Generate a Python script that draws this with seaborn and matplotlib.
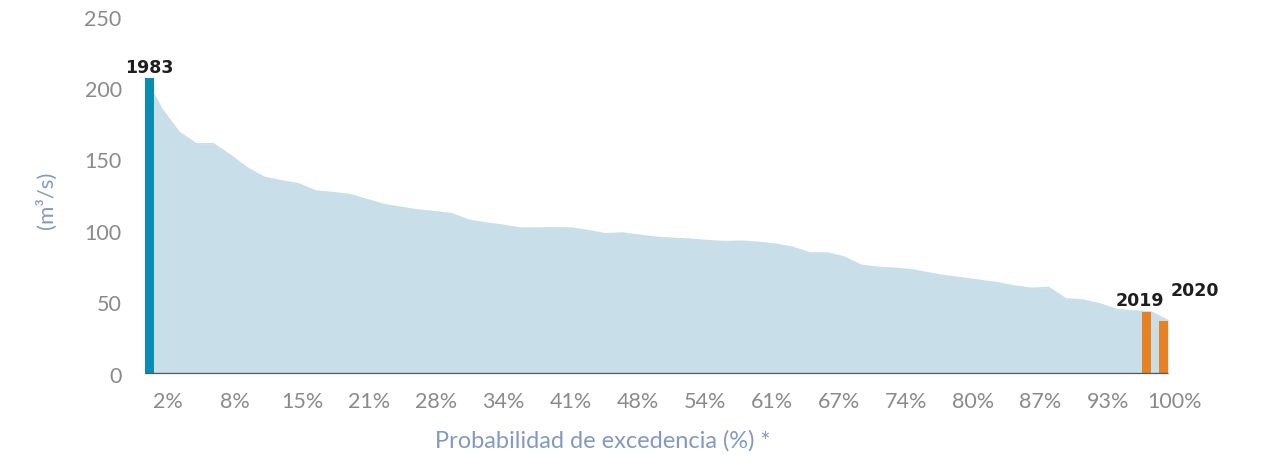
import matplotlib
matplotlib.use("Agg")
import matplotlib.pyplot as plt
import numpy as np
import pandas as pd
import seaborn as sns

# caudal ordenado de mayor a menor (m3/s), 61 años
caudal = [207, 185, 169, 161, 161, 153, 144, 137.5, 135, 133,
          128, 126.8, 125.5, 122, 118.5, 116.5, 114.6, 113.5, 112, 107.5,
          105.5, 104, 102, 102, 102.2, 102, 100.2, 98, 98.5, 97,
          95.5, 94.8, 94.2, 93.2, 92.5, 92.8, 92, 90.7, 88.5, 84.6,
          84.6, 81.8, 76, 74.5, 73.8, 72.8, 70.5, 68.5, 67, 65.3,
          63.8, 61.5, 59.8, 60.5, 52.5, 51.7, 49, 45, 44, 43.4,
          37.3]
rango = list(range(1, len(caudal) + 1))

anios_dest = ['1983', '2019', '2020']
rango_dest = [1, 60, 61]
caudal_dest = [207, 43.4, 37.3]
colores_dest = ['#0a8db3', '#e88024', '#e88024']

etiquetas_x = ['2%', '8%', '15%', '21%', '28%', '34%', '41%', '48%',
               '54%', '61%', '67%', '74%', '80%', '87%', '93%', '100%']

df = pd.DataFrame({'rango': rango, 'caudal': caudal})

sns.set_theme(style='white')
plt.rcParams['font.family'] = ['Lato', 'DejaVu Sans']

W, H = 1264, 456
fig = plt.figure(figsize=(W / 100, H / 100), dpi=100)

# ejes en pixeles: rango 1 en x=145, rango 61 en x=1168
px_por_rango = (1168 - 145) / 60
ax_izq, ax_der = 130, 1230
alto = 375 - 17.5
ax = fig.add_axes([ax_izq / W, 1 - 375 / H, (ax_der - ax_izq) / W, alto / H])
ax.set_xlim(1 - (145 - ax_izq) / px_por_rango, 1 + (ax_der - 145) / px_por_rango)
ax.set_ylim(0, 250)

color_area = '#c8dee8'
ax.fill_between(df['rango'], 0, df['caudal'], color=color_area, linewidth=0)
sns.lineplot(data=df, x='rango', y='caudal', ax=ax, color=color_area, linewidth=1.2)

ancho = 0.53
for anio, r, v, c in zip(anios_dest, rango_dest, caudal_dest, colores_dest):
    if r == 1:
        ax.bar(r, v, width=ancho, align='edge', color=c, linewidth=0, zorder=3)
        cx = r + ancho / 2
        off = (0, 2)
    else:
        ax.bar(r, v, width=-ancho, align='edge', color=c, linewidth=0, zorder=3)
        cx = r - ancho / 2
        off = (-7, 3) if anio == '2019' else (31, 22)
    ax.annotate(anio, (cx, v), xytext=off, textcoords='offset pixels',
                ha='center', va='bottom', fontsize=12.5, fontweight='bold',
                color='#1e1e1e', family='DejaVu Sans')

ax.hlines(0, 1, 61, color='#55595c', linewidth=2.4, zorder=4)

pos_x = np.linspace(2.35, 61.4, len(etiquetas_x))
ax.set_xticks(pos_x)
ax.set_xticklabels(etiquetas_x)
ax.set_yticks([0, 50, 100, 150, 200, 250])
ax.tick_params(axis='both', length=0, labelsize=15.5, labelcolor='#8a8a8a')
ax.tick_params(axis='x', pad=12)
ax.tick_params(axis='y', pad=6)

for s in ax.spines.values():
    s.set_visible(False)

ax.set_xlabel('Probabilidad de excedencia (%) *', fontsize=17, color='#8399c4')
ax.set_ylabel('(m³/s)', fontsize=16, color='#8399c4')
ax.xaxis.set_label_coords((603 - ax_izq) / (ax_der - ax_izq), -(430 - 375) / alto)
ax.yaxis.set_label_coords((57 - ax_izq) / (ax_der - ax_izq), (375 - 200) / alto)

fig.savefig('out.png', dpi=100)
